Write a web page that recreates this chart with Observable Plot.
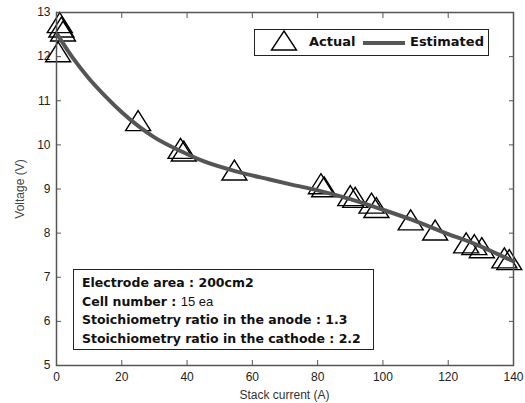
<!DOCTYPE html>
<html>
<head>
<meta charset="utf-8">
<script src="https://cdn.jsdelivr.net/npm/d3@7"></script>
<script src="https://cdn.jsdelivr.net/npm/@observablehq/plot@0.6"></script>
<style>
  html, body { margin: 0; padding: 0; background: #fff; }
  #wrap { position: relative; width: 525px; height: 403px; font-family: "Liberation Sans", Arial, sans-serif; }
  #wrap svg { position: absolute; left: 0; top: 0; overflow: visible; }
  .ov { position: absolute; white-space: nowrap; }
  .box { position: absolute; border: 1.3px solid #222; background: #fff; box-sizing: border-box; }
  .bold { font-family: "DejaVu Sans", Verdana, sans-serif; font-weight: bold; color: #111; }
  .reg { font-weight: normal; }
</style>
</head>
<body>
<div id="wrap"></div>
<script>
// Actual (measured) points
const actualCurrent = [1, 1.5, 2, 0.5, 25, 38, 39, 54.5, 81, 82, 90, 91.5, 96.5, 98, 108.5, 116, 125.5, 128, 130.3, 137.2, 138.7];
const actualVoltage = [12.77, 12.67, 12.58, 12.11, 10.55, 9.92, 9.86, 9.43, 9.12, 9.05, 8.85, 8.81, 8.68, 8.58, 8.30, 8.07, 7.78, 7.74, 7.67, 7.44, 7.40];
// Estimated curve
const estCurrent = [0.3, 5, 10, 15, 20, 25, 30, 38, 45, 55, 65, 72, 80, 90, 100, 108.6, 120, 127, 135, 140];
const estVoltage = [12.5, 11.97, 11.5, 11.1, 10.74, 10.43, 10.17, 9.86, 9.63, 9.4, 9.22, 9.1, 8.97, 8.77, 8.53, 8.31, 7.98, 7.79, 7.53, 7.36];
// Ticks and labels
const xTicks = [0, 20, 40, 60, 80, 100, 120, 140];
const yTicks = [5, 6, 7, 8, 9, 10, 11, 12, 13];
const xLabel = "Stack current (A)";
const yLabel = "Voltage (V)";
const legendLabels = ["Actual", "Estimated"];
const noteLabels = ["Electrode area : ", "Cell number : ", "Stoichiometry ratio in the anode : ", "Stoichiometry ratio in the cathode : "];
const noteValues = ["200cm2", "15 ea", "1.3", "2.2"];

const actual = actualCurrent.map((x, i) => ({x, y: actualVoltage[i]}));
const est = estCurrent.map((x, i) => ({x, y: estVoltage[i]}));

// Triangle centered on its bounding box (MATLAB '^' style)
const tri = {
  draw(ctx, size) {
    const r = Math.sqrt(size / Math.PI);
    const hw = r * 1.25, hh = r;
    ctx.moveTo(0, -hh);
    ctx.lineTo(hw, hh);
    ctx.lineTo(-hw, hh);
    ctx.closePath();
  }
};

const W = 525, H = 403;
const mL = 56, mR = 12, mT = 12, mB = 38;
const axisColor = "#555";

const chart = Plot.plot({
  width: W, height: H,
  marginLeft: mL, marginRight: mR, marginTop: mT, marginBottom: mB,
  style: {fontFamily: "'Liberation Sans', Arial, sans-serif", fontSize: "12px", color: "#222", background: "transparent"},
  x: {domain: [0, 140], ticks: xTicks},
  y: {domain: [5, 13], ticks: yTicks},
  marks: [
    Plot.axisX(xTicks, {anchor: "bottom", tickSize: -5, tickPadding: 12, label: null, stroke: axisColor, fontSize: 12}),
    Plot.axisX(xTicks, {anchor: "top", tickSize: -5, tickFormat: () => "", label: null, stroke: axisColor}),
    Plot.axisY(yTicks, {anchor: "left", tickSize: -5, tickPadding: 11, label: null, stroke: axisColor, fontSize: 12}),
    Plot.axisY(yTicks, {anchor: "right", tickSize: -5, tickFormat: () => "", label: null, stroke: axisColor}),
    Plot.dot(actual, {x: "x", y: "y", symbol: tri, r: 10, stroke: "#000", fill: "none", strokeWidth: 1.4}),
    Plot.line(est, {x: "x", y: "y", stroke: "#555", strokeWidth: 4, curve: "monotone-x"}),
    Plot.frame({stroke: axisColor, strokeWidth: 1.5})
  ]
});

const wrap = document.getElementById("wrap");
wrap.appendChild(chart);

// Axis labels
const xl = document.createElement("div");
xl.className = "ov";
xl.textContent = xLabel;
xl.style.cssText = "left:" + (mL + (W - mL - mR) / 2) + "px; top:388px; transform:translateX(-50%); font-size:12px; color:#333;";
wrap.appendChild(xl);

const yl = document.createElement("div");
yl.className = "ov";
yl.textContent = yLabel;
yl.style.cssText = "left:20px; top:" + (mT + (H - mT - mB) / 2) + "px; transform:translate(-50%,-50%) rotate(-90deg); font-size:12px; color:#444;";
wrap.appendChild(yl);

// Legend box
const leg = document.createElement("div");
leg.className = "box bold";
leg.style.cssText += "left:254px; top:29px; width:235px; height:27px; font-size:13px;";
leg.innerHTML =
  '<svg width="30" height="22" style="position:absolute;left:14px;top:0px;overflow:visible"><path d="M15,1 L27.5,20 L2.5,20 Z" fill="none" stroke="#000" stroke-width="1.4"/></svg>' +
  '<span style="position:absolute;left:54px;top:4px">' + legendLabels[0] + '</span>' +
  '<svg width="42" height="6" style="position:absolute;left:108px;top:10px"><line x1="0" y1="3" x2="42" y2="3" stroke="#555" stroke-width="4"/></svg>' +
  '<span style="position:absolute;left:155px;top:4px">' + legendLabels[1] + '</span>';
wrap.appendChild(leg);

// Annotation box
const note = document.createElement("div");
note.className = "box bold";
note.style.cssText += "left:73px; top:269px; width:301px; height:81px; font-size:12.5px; line-height:18.5px; padding:4px 0 0 8px;";
note.innerHTML = noteLabels.map((s, i) =>
  "<div>" + s + (i === 1 ? '<span class="reg" style="font-family:\'Liberation Sans\',Arial,sans-serif;font-size:13px">' + noteValues[i] + "</span>" : noteValues[i]) + "</div>"
).join("");
wrap.appendChild(note);
</script>
</body>
</html>
